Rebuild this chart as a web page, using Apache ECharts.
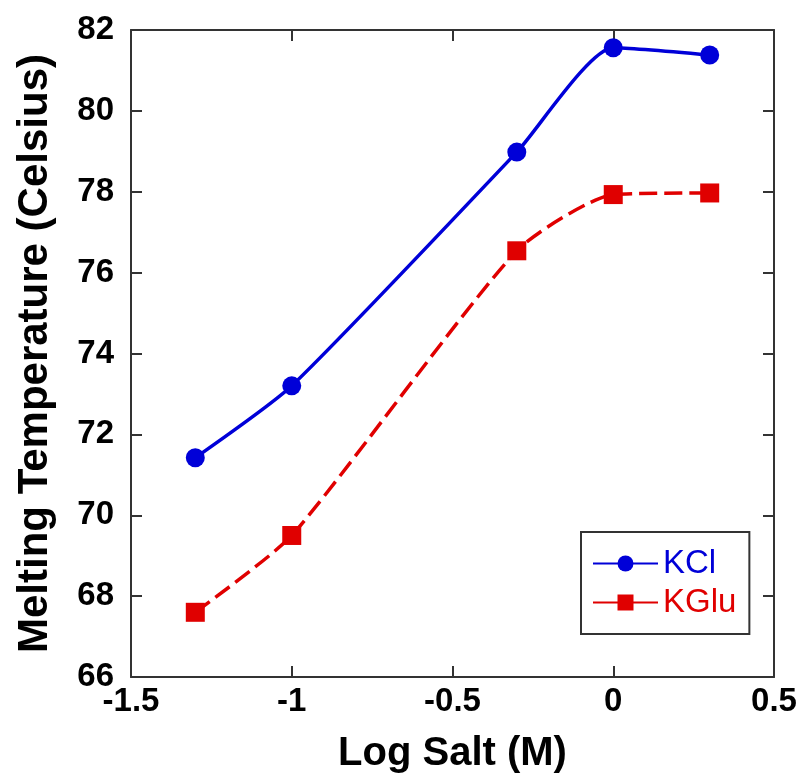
<!DOCTYPE html>
<html><head><meta charset="utf-8">
<script src="https://cdn.jsdelivr.net/npm/echarts@6/dist/echarts.min.js"></script>
<style>html,body{margin:0;padding:0;background:#fff}#c{width:801px;height:782px}</style>
</head><body><div id="c"></div>
<script>
const logSalt = [-1.3, -1.0, -0.3, 0.0, 0.3];
const kclTm = [71.42, 73.2, 78.98, 81.56, 81.38];
const kgluTm = [67.6, 69.5, 76.54, 77.93, 77.97];
const xTicks = [-1.5, -1, -0.5, 0, 0.5];
const yTicks = [66, 68, 70, 72, 74, 76, 78, 80, 82];

const font = 'Liberation Sans, Arial, sans-serif';
const pairs = (xs, ys) => xs.map((x, i) => [x, ys[i]]);
const axisLine = {show: true, onZero: false, lineStyle: {color: '#333', width: 2}};
const tick = {show: true, inside: true, length: 11, lineStyle: {color: '#333', width: 2}};

const chart = echarts.init(document.getElementById('c'), null, {renderer: 'canvas'});
chart.setOption({
  animation: false,
  backgroundColor: '#fff',
  grid: {left: 131, top: 30, right: 27, bottom: 105, containLabel: false},
  xAxis: [{
    type: 'value', min: xTicks[0], max: xTicks[xTicks.length-1], interval: 0.5,
    position: 'bottom',
    axisLine, axisTick: tick, splitLine: {show: false},
    axisLabel: {color: '#000', fontSize: 33, fontWeight: 'bold', fontFamily: font, margin: 8,
      formatter: v => String(v)},
    name: 'Log Salt (M)', nameLocation: 'middle', nameGap: 57,
    nameTextStyle: {color: '#000', fontSize: 40, fontWeight: 'bold', fontFamily: font}
  }, {
    type: 'value', min: xTicks[0], max: xTicks[xTicks.length-1], interval: 0.5,
    position: 'top', axisLine, axisTick: tick, axisLabel: {show: false}, splitLine: {show: false}
  }],
  yAxis: [{
    type: 'value', min: yTicks[0], max: yTicks[yTicks.length-1], interval: 2,
    position: 'left',
    axisLine, axisTick: tick, splitLine: {show: false},
    axisLabel: {color: '#000', fontSize: 33, fontWeight: 'bold', fontFamily: font, margin: 17,
      padding: [0, 0, 14, 0]},
    name: 'Melting Temperature (Celsius)', nameLocation: 'middle', nameGap: 75,
    nameTextStyle: {color: '#000', fontSize: 42, fontWeight: 'bold', fontFamily: font}
  }, {
    type: 'value', min: yTicks[0], max: yTicks[yTicks.length-1], interval: 2,
    position: 'right', axisLine, axisTick: tick, axisLabel: {show: false}, splitLine: {show: false}
  }],
  legend: {
    orient: 'vertical', left: 581, top: 532,
    padding: [15, 13, 15, 11],
    borderColor: '#333', borderWidth: 2, backgroundColor: '#fff',
    itemWidth: 65, itemHeight: 20, itemGap: 6,
    textStyle: {fontSize: 33, fontFamily: font},
    data: [
      {name: 'KCl', textStyle: {color: '#0000d8'}},
      {name: 'KGlu', textStyle: {color: '#e00000'}, lineStyle: {type: 'solid'}}
    ]
  },
  series: [{
    name: 'KCl', type: 'line', smooth: 0.2,
    data: pairs(logSalt, kclTm),
    symbol: 'circle', symbolSize: 19,
    lineStyle: {color: '#0000d8', width: 3.5},
    itemStyle: {color: '#0000d8'}
  }, {
    name: 'KGlu', type: 'line', smooth: 0.2,
    data: pairs(logSalt, kgluTm),
    symbol: 'rect', symbolSize: 19,
    lineStyle: {color: '#e00000', width: 3.5, type: [18, 7]},
    itemStyle: {color: '#e00000'}
  }]
});
</script></body></html>
